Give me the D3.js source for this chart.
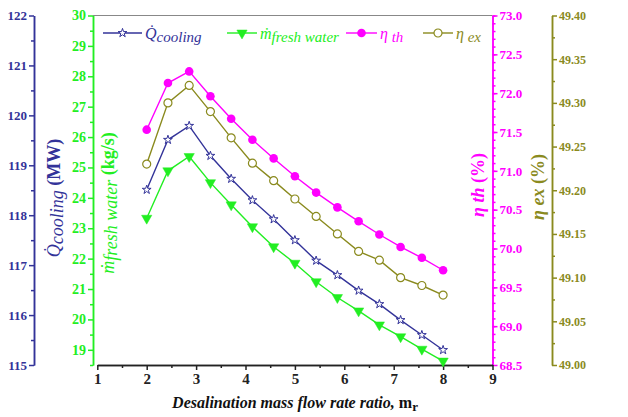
<!DOCTYPE html>
<html>
<head>
<meta charset="utf-8">
<script src="https://cdn.jsdelivr.net/npm/d3@7"></script>
<style>
  body { margin: 0; background: #fff; }
  svg { display: block; }
  svg text { font-family: "Liberation Serif", "DejaVu Serif", serif !important; }
</style>
</head>
<body>
<svg id="chart" width="628" height="417"></svg>
<script>
// data ---------------------------------------------------------------
const mr = [2, 2.43, 2.86, 3.29, 3.71, 4.14, 4.57, 5, 5.43, 5.86, 6.29, 6.71, 7.14, 7.57, 8];
const qCooling = [118.51, 119.51, 119.79, 119.19, 118.73, 118.30, 117.92, 117.50, 117.09, 116.80, 116.49, 116.22, 115.90, 115.60, 115.30];
const mFresh = [23.33, 24.89, 25.36, 24.50, 23.77, 23.05, 22.39, 21.85, 21.24, 20.72, 20.28, 19.82, 19.43, 19.02, 18.63];
const etaTh = [71.53, 72.13, 72.28, 71.96, 71.67, 71.40, 71.16, 70.93, 70.72, 70.53, 70.35, 70.18, 70.02, 69.88, 69.72];
const etaEx = [49.230, 49.300, 49.320, 49.290, 49.260, 49.231, 49.211, 49.190, 49.170, 49.150, 49.130, 49.120, 49.100, 49.091, 49.080];

const xTicks = [1, 2, 3, 4, 5, 6, 7, 8, 9];
const qTicks = [115, 116, 117, 118, 119, 120, 121, 122];
const mTicks = [19, 20, 21, 22, 23, 24, 25, 26, 27, 28, 29, 30];
const thTicks = [68.5, 69.0, 69.5, 70.0, 70.5, 71.0, 71.5, 72.0, 72.5, 73.0];
const exTicks = [49.00, 49.05, 49.10, 49.15, 49.20, 49.25, 49.30, 49.35, 49.40];

const navy = '#333399';
const green = '#22ee22';
const pink = '#ff00ff';
const olive = '#8a8a1e';

const svg = d3.select('#chart');
const plotTop = 15.5, plotBottom = 365;

// scales
const x = d3.scaleLinear().domain([1, 9]).range([97.3, 492.5]);
const yQ = d3.scaleLinear().domain([115, 122]).range([plotBottom, plotTop]);
const yM = d3.scaleLinear().domain([18.5, 30]).range([plotBottom, plotTop]);
const yTh = d3.scaleLinear().domain([68.5, 73]).range([plotBottom, plotTop]);
const yEx = d3.scaleLinear().domain([49, 49.4]).range([plotBottom, plotTop]);

// top frame line
svg.append('line')
  .attr('x1', 93).attr('x2', x(9))
  .attr('y1', plotTop).attr('y2', plotTop)
  .attr('stroke', '#888').attr('stroke-width', 1.2);

// axes ---------------------------------------------------------------
function addAxis(axisFn, scale, majors, minors, fmt, tx, ty, color, fontSize) {
  const gMinor = svg.append('g').attr('transform', `translate(${tx},${ty})`)
    .call(axisFn(scale).tickValues(minors).tickSize(3).tickFormat('').tickSizeOuter(0));
  const gMajor = svg.append('g').attr('transform', `translate(${tx},${ty})`)
    .call(axisFn(scale).tickValues(majors).tickSize(5).tickFormat(fmt).tickSizeOuter(0).tickPadding(2));
  [gMinor, gMajor].forEach(g => {
    g.attr('font-family', null).attr('font-size', null);
    g.selectAll('path, line').attr('stroke', color).attr('stroke-width', 1.5);
    g.selectAll('text')
      .attr('fill', color)
      .attr('font-weight', 'bold')
      .attr('font-size', fontSize);
  });
  return gMajor;
}

addAxis(d3.axisLeft, yQ, qTicks, d3.range(115.5, 122, 1), d3.format('d'), 34, 0, navy, 13);
addAxis(d3.axisLeft, yM, mTicks, d3.range(18.5, 30, 1), d3.format('d'), 93, 0, green, 14);
addAxis(d3.axisRight, yTh, thTicks, d3.range(68.6, 73, 0.1), d3.format('.1f'), x(9), 0, pink, 13);
addAxis(d3.axisRight, yEx, exTicks, d3.range(49.025, 49.4, 0.05), d3.format('.2f'), 552, 0, olive, 12);
const gx = addAxis(d3.axisBottom, x, xTicks, d3.range(1.5, 9, 1), d3.format('d'), 0, plotBottom, '#222', 15);
gx.selectAll('text').attr('dy', '0.8em');

// series -------------------------------------------------------------
const series = [
  { vals: qCooling, y: yQ, color: navy, kind: 'star' },
  { vals: mFresh, y: yM, color: green, kind: 'tri' },
  { vals: etaTh, y: yTh, color: pink, kind: 'dot' },
  { vals: etaEx, y: yEx, color: olive, kind: 'ring' }
];

function drawMarker(g, kind, color) {
  if (kind === 'star') {
    g.append('path').attr('d', d3.symbol(d3.symbolStar, 24)())
      .attr('fill', '#fff').attr('stroke', color).attr('stroke-width', 1);
  } else if (kind === 'tri') {
    g.append('path').attr('d', d3.symbol(d3.symbolTriangle, 46)())
      .attr('transform', 'rotate(180)')
      .attr('fill', color).attr('stroke', color).attr('stroke-width', 0.5);
  } else if (kind === 'dot') {
    g.append('circle').attr('r', 4.3).attr('fill', color);
  } else {
    g.append('circle').attr('r', 4).attr('fill', '#fff')
      .attr('stroke', color).attr('stroke-width', 1.2);
  }
}

series.forEach(s => {
  const pts = mr.map((m, i) => [m, s.vals[i]]);
  svg.append('path')
    .datum(pts)
    .attr('fill', 'none')
    .attr('stroke', s.color)
    .attr('stroke-width', 1.4)
    .attr('d', d3.line().x(d => x(d[0])).y(d => s.y(d[1])));
  svg.append('g').selectAll('g')
    .data(pts)
    .join('g')
    .attr('transform', d => `translate(${x(d[0])},${s.y(d[1])})`)
    .each(function () { drawMarker(d3.select(this), s.kind, s.color); });
});

// legend -------------------------------------------------------------
const legend = [
  { x1: 103, x2: 142, kind: 'star', color: navy, main: 'Q\u0307', sub: 'cooling' },
  { x1: 227, x2: 257, kind: 'tri', color: green, main: '\u1E41', sub: 'fresh water' },
  { x1: 346, x2: 377, kind: 'dot', color: pink, main: '\u03B7', sub: ' th' },
  { x1: 423, x2: 453, kind: 'ring', color: olive, main: '\u03B7', sub: ' ex' }
];
const ly = 33;
legend.forEach(l => {
  const g = svg.append('g');
  g.append('line').attr('x1', l.x1).attr('x2', l.x2).attr('y1', ly).attr('y2', ly)
    .attr('stroke', l.color).attr('stroke-width', 1.4);
  const m = g.append('g').attr('transform', `translate(${(l.x1 + l.x2) / 2},${ly})`);
  drawMarker(m, l.kind, l.color);
  const t = g.append('text').attr('x', l.x2 + 3).attr('y', ly + 6)
    .attr('fill', l.color).style('font-style', 'italic').style('font-size', '16px');
  t.append('tspan').text(l.main);
  t.append('tspan').attr('dy', 3).style('font-size', '15px').text(l.sub);
});

// axis titles --------------------------------------------------------
const qt = svg.append('text')
  .attr('transform', 'translate(60,198) rotate(-90)')
  .attr('text-anchor', 'middle').attr('fill', navy).style('font-size', '18px');
qt.append('tspan').style('font-style', 'italic').text('Q\u0307');
qt.append('tspan').style('font-style', 'italic').attr('dy', 3).text('cooling');
qt.append('tspan').style('font-weight', 'bold').attr('dy', -3).text(' (MW)');

const mt = svg.append('text')
  .attr('transform', 'translate(114,203) rotate(-90)')
  .attr('text-anchor', 'middle').attr('fill', green).style('font-size', '18px');
mt.append('tspan').style('font-style', 'italic').text('\u1E41');
mt.append('tspan').style('font-style', 'italic').attr('dy', 3).text('fresh water');
mt.append('tspan').style('font-weight', 'bold').attr('dy', -3).text(' (kg/s)');

const tt = svg.append('text')
  .attr('transform', 'translate(484,185) rotate(-90)')
  .attr('text-anchor', 'middle').attr('fill', pink).style('font-size', '18px').style('font-weight', 'bold');
tt.append('tspan').style('font-style', 'italic').text('\u03B7 th');
tt.append('tspan').text(' (%)');

const et = svg.append('text')
  .attr('transform', 'translate(544,187) rotate(-90)')
  .attr('text-anchor', 'middle').attr('fill', olive).style('font-size', '18px').style('font-weight', 'bold');
et.append('tspan').style('font-style', 'italic').text('\u03B7 ex');
et.append('tspan').text(' (%)');

const xt = svg.append('text')
  .attr('x', 295).attr('y', 408)
  .attr('text-anchor', 'middle').attr('fill', '#111')
  .style('font-size', '16px').style('font-weight', 'bold');
xt.append('tspan').style('font-style', 'italic').text('Desalination mass flow rate ratio, ');
xt.append('tspan').text('m');
xt.append('tspan').attr('dy', 3).style('font-size', '13px').text('r');
</script>
</body>
</html>
